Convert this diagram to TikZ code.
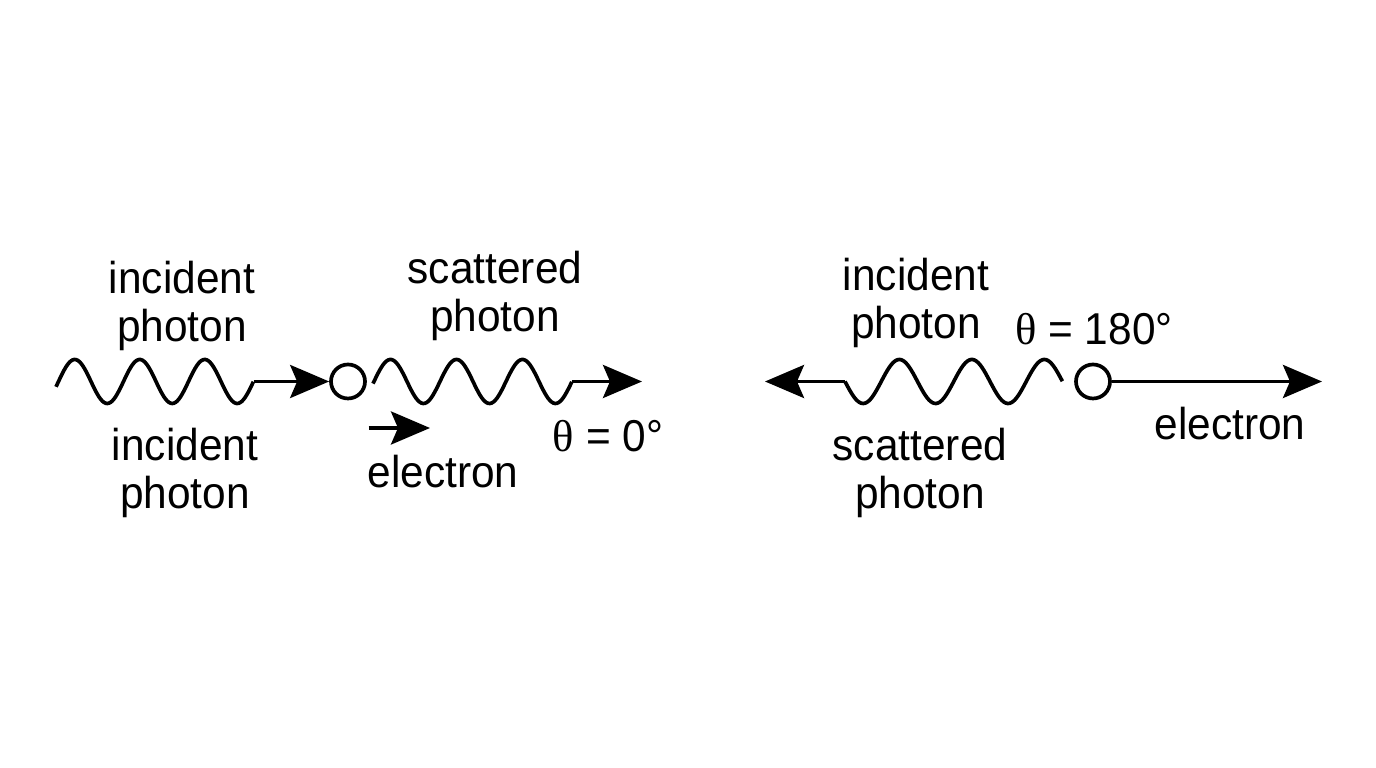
\documentclass[tikz,border=0pt]{standalone}
\usepackage{fontspec}
\setmainfont{Liberation Sans}[FakeStretch=0.95]
\newfontfamily\grec{Liberation Serif}
\usepackage{tikz}
\usetikzlibrary{arrows.meta}

\begin{document}
\begin{tikzpicture}[
    onde/.style={line width=1.05pt, line join=round},
    fleche/.style={line width=1.05pt, -{Stealth[length=3.9mm, width=3.3mm, inset=0.7mm]}},
    particule/.style={circle, draw, line width=1.05pt, minimum size=3.4mm, inner sep=0pt},
    etiquette/.style={align=center, inner sep=0pt, font=\fontsize{12.7}{13.6}\selectfont}
  ]
  \useasboundingbox (0,0) rectangle (13.76,7.68);
  % Cas theta = 0
  \node[particule] (e1) at (3.48,3.865) {};
  \draw[onde] plot[domain=0.56:2.535, samples=120]
    (\x, {3.865+0.22*sin(360*(\x-0.585)/0.65)});
  \coordinate (fin1) at (2.535,3.865);
  \draw[fleche] (fin1) -- (e1);
  \draw[onde] plot[domain=3.73:5.72, samples=120]
    (\x, {3.865+0.22*sin(360*(\x-3.74)/0.66)});
  \coordinate (fin2) at (5.72,3.865);
  \coordinate (pointe2) at (6.42,3.865);
  \draw[fleche] (fin2) -- (pointe2);
  \coordinate (ea) at (3.685,3.40);
  \coordinate (eb) at (4.30,3.40);
  \draw[fleche] (ea) -- (eb);
  \node[etiquette] (inc1) at (1.82,4.623) {incident\\photon};
  \node[etiquette] (inc2) at (1.85,2.953) {incident\\photon};
  \node[etiquette] (diff1) at (4.95,4.723) {scattered\\photon};
  \node[etiquette, anchor=base] (el1) at (4.43,2.80) {electron};
  \node[etiquette, anchor=base] (th1) at (6.08,3.16) {{\grec θ} = 0°};
  % Cas theta = 180
  \node[particule] (e2) at (10.93,3.865) {};
  \draw[onde] plot[domain=8.45:10.625, samples=120]
    (\x, {3.865-0.22*sin(360*(\x-8.45)/0.725)});
  \coordinate (debut3) at (8.45,3.865);
  \coordinate (pointe3) at (7.65,3.865);
  \draw[fleche] (debut3) -- (pointe3);
  \coordinate (pointe4) at (13.22,3.865);
  \draw[fleche] (e2) -- (pointe4);
  \node[etiquette] (inc3) at (9.16,4.653) {incident\\photon};
  \node[etiquette, anchor=base] (th2) at (10.94,4.23) {{\grec θ} = 180°};
  \node[etiquette] (diff2) at (9.20,2.953) {scattered\\photon};
  \node[etiquette, anchor=base] (el2) at (12.30,3.28) {electron};
\end{tikzpicture}
\end{document}
